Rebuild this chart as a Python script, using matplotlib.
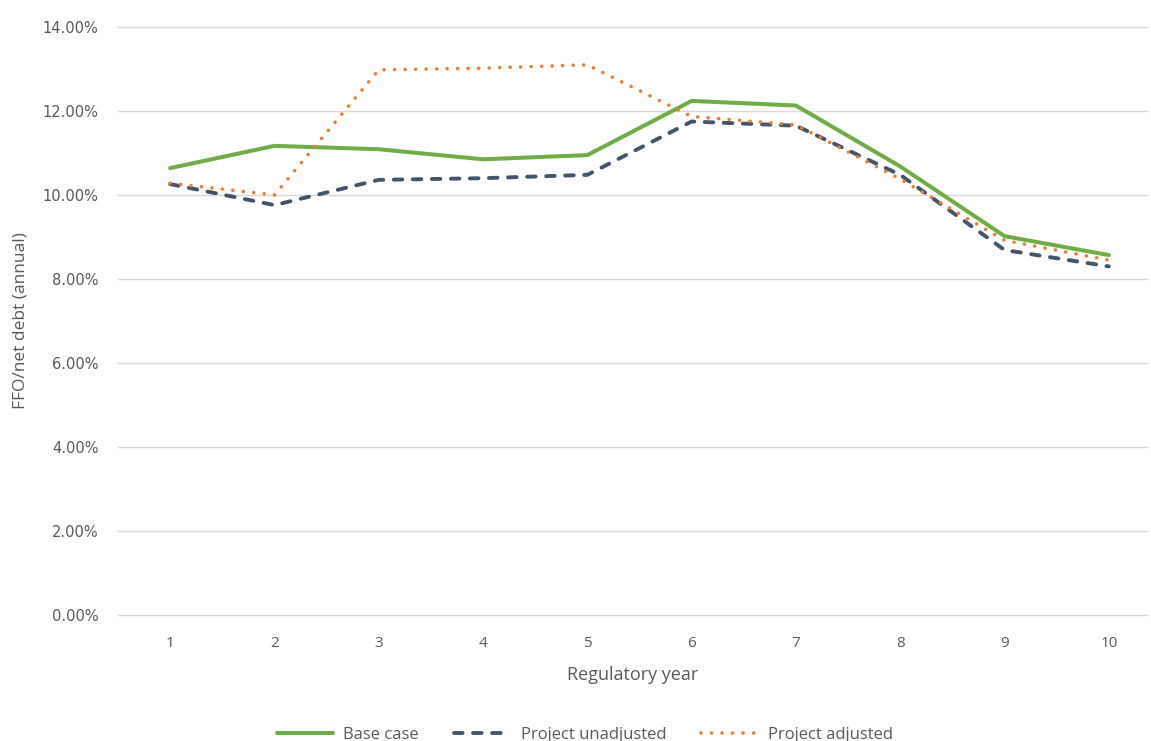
import matplotlib
matplotlib.use("Agg")
import matplotlib.pyplot as plt
from matplotlib.ticker import FuncFormatter

years = [1, 2, 3, 4, 5, 6, 7, 8, 9, 10]
base_case = [10.64, 11.17, 11.09, 10.85, 10.95, 12.24, 12.13, 10.68, 9.02, 8.57]
project_unadjusted = [10.26, 9.76, 10.36, 10.40, 10.48, 11.75, 11.65, 10.48, 8.69, 8.30]
project_adjusted = [10.28, 10.00, 12.98, 13.02, 13.10, 11.87, 11.67, 10.38, 8.92, 8.45]
y_ticks = [0, 2, 4, 6, 8, 10, 12, 14]

W, H = 1151, 741
fig = plt.figure(figsize=(W / 100, H / 100), dpi=100)
plt.rcParams['font.family'] = ['Open Sans', 'DejaVu Sans']

left, right = 118, 1147
bottom, top = 741 - 615, 741 - 27
ax = fig.add_axes([left / W, bottom / H, (right - left) / W, (top - bottom) / H])

step = 104.3
ax.set_xlim(0.5, 0.5 + (right - left) / step)
ax.set_ylim(0, 14)

ax.plot(years, base_case, color='#70AD47', lw=2.9, solid_capstyle='round',
        solid_joinstyle='round', label='Base case', zorder=3)
ax.plot(years, project_unadjusted, color='#44546A', lw=2.8,
        linestyle=(0, (2.2, 2.7)), dash_capstyle='round', dash_joinstyle='round',
        label='Project unadjusted', zorder=4)
ax.plot(years, project_adjusted, color='#ED7D31', lw=2.6,
        linestyle=(0, (0.01, 2.9)), dash_capstyle='round',
        label='Project adjusted', zorder=5)

ax.set_yticks(y_ticks)
ax.yaxis.set_major_formatter(FuncFormatter(lambda v, p: f"{v:.2f}%"))
ax.set_xticks(years)
ax.grid(axis='y', color='#D9D9D9', lw=1.0)
for gl in ax.get_ygridlines():
    gl.set_clip_on(False)
ax.set_axisbelow(True)
for s in ax.spines.values():
    s.set_visible(False)
ax.tick_params(axis='both', length=0, colors='#595959')
ax.tick_params(axis='y', pad=14, labelsize=10.5)
for lbl in ax.get_yticklabels():
    lbl.set_family('DejaVu Sans')
ax.tick_params(axis='x', pad=15, labelsize=11)

ax.set_xlabel('Regulatory year', color='#595959', fontsize=13, labelpad=11)
ax.set_ylabel('FFO/net debt (annual)', color='#595959', fontsize=12.5, labelpad=10)

leg = fig.legend(loc='center', bbox_to_anchor=(0.508, 6 / H), ncol=3,
                 frameon=False, fontsize=12, handlelength=3.4,
                 columnspacing=2.1, handletextpad=0.6, borderpad=0)
for t in leg.get_texts():
    t.set_color('#595959')

fig.savefig('out.png', dpi=100, facecolor='white')
